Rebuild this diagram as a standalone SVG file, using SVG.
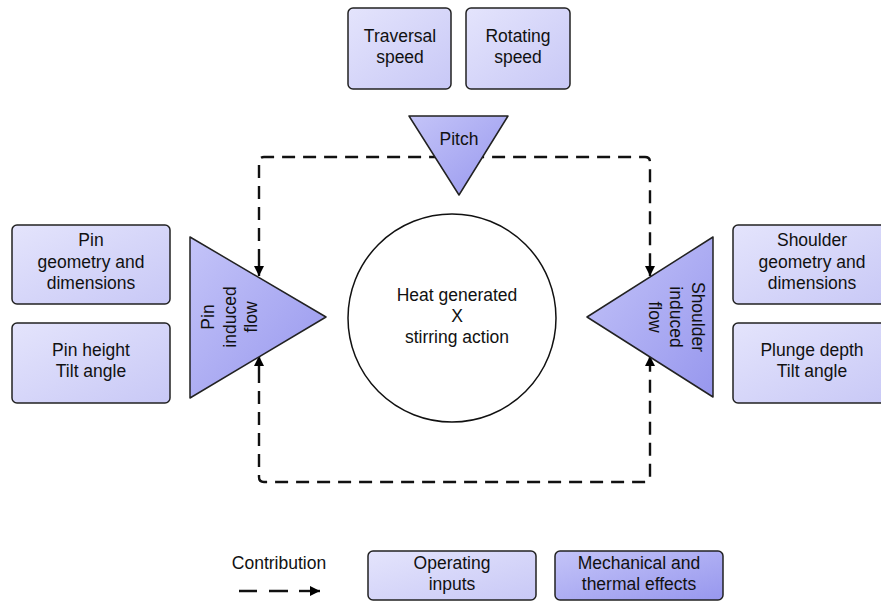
<svg xmlns="http://www.w3.org/2000/svg" width="881" height="601" viewBox="0 0 881 601">
<defs>
<linearGradient id="gIn" x1="0" y1="0" x2="1" y2="1">
<stop offset="0" stop-color="#e4e4fc"/>
<stop offset="1" stop-color="#c8c8f6"/>
</linearGradient>
<linearGradient id="gEf" x1="0" y1="0" x2="1" y2="1">
<stop offset="0" stop-color="#c4c4f8"/>
<stop offset="1" stop-color="#9797ee"/>
</linearGradient>
<marker id="arr" viewBox="0 0 10 10" refX="10" refY="5" markerWidth="10" markerHeight="10" markerUnits="userSpaceOnUse" orient="auto">
<path d="M0,0 L10,5 L0,10 z" fill="#000"/>
</marker>
</defs>
<style>
.in{fill:url(#gIn);stroke:#222;stroke-width:1.5}
.ef{fill:url(#gEf);stroke:#222;stroke-width:1.5;stroke-linejoin:round}
text{font-family:"Liberation Sans",Arial,sans-serif;font-size:17.5px;fill:#111;text-anchor:middle}
.dash{fill:none;stroke:#111;stroke-width:2.4;stroke-dasharray:13 8}
</style>
<rect width="881" height="601" fill="#fff"/>

<g id="traversal"><rect class="in" x="348" y="8" width="103" height="81" rx="5"/><text x="400" y="42">Traversal</text><text x="400" y="63">speed</text></g>
<g id="rotating"><rect class="in" x="466" y="8" width="104" height="81" rx="5"/><text x="518" y="42">Rotating</text><text x="518" y="63">speed</text></g>

<g id="connectors">
<path class="dash" d="M259,262 L259,162 Q259,157 264,157 L645,157 Q650,157 650,162 L650,262"/>
<path class="dash" d="M259,370 L259,477 Q259,482 264,482 L645,482 Q650,482 650,477 L650,370"/>
<path d="M259,262 L259,276" stroke="#111" stroke-width="2.4" marker-end="url(#arr)"/>
<path d="M650,262 L650,276" stroke="#111" stroke-width="2.4" marker-end="url(#arr)"/>
<path d="M259,370 L259,356" stroke="#111" stroke-width="2.4" marker-end="url(#arr)"/>
<path d="M650,370 L650,356" stroke="#111" stroke-width="2.4" marker-end="url(#arr)"/>
</g>

<g id="pitch"><path class="ef" d="M409,116 L508,116 L459,195 z"/><text x="459" y="145">Pitch</text></g>

<g id="pin-flow"><path class="ef" d="M190,237 L190,398 L326,317 z"/>
<text transform="translate(214,317) rotate(-90)">Pin</text>
<text transform="translate(236,317) rotate(-90)">induced</text>
<text transform="translate(257,317) rotate(-90)">flow</text></g>

<g id="shoulder-flow"><path class="ef" d="M713,237 L713,397 L587,317 z"/>
<text transform="translate(692,317) rotate(90)">Shoulder</text>
<text transform="translate(670,317) rotate(90)">induced</text>
<text transform="translate(649,317) rotate(90)">flow</text></g>

<g id="heat"><circle cx="452" cy="318" r="104" fill="#fff" stroke="#111" stroke-width="1.5"/>
<text x="457" y="301">Heat generated</text><text x="457" y="322">X</text><text x="457" y="343">stirring action</text></g>

<g id="pin-geom"><rect class="in" x="12" y="225" width="158" height="79" rx="5"/><text x="91" y="246">Pin</text><text x="91" y="268">geometry and</text><text x="91" y="289">dimensions</text></g>
<g id="pin-height"><rect class="in" x="12" y="323" width="158" height="80" rx="5"/><text x="91" y="356">Pin height</text><text x="91" y="377">Tilt angle</text></g>

<g id="shoulder-geom"><rect class="in" x="733" y="225" width="158" height="79" rx="5"/><text x="812" y="246">Shoulder</text><text x="812" y="268">geometry and</text><text x="812" y="289">dimensions</text></g>
<g id="plunge"><rect class="in" x="733" y="323" width="158" height="80" rx="5"/><text x="812" y="356">Plunge depth</text><text x="812" y="377">Tilt angle</text></g>

<g id="legend">
<text x="279" y="569">Contribution</text>
<path d="M239,591 L257,591 M269,591 L288,591" stroke="#111" stroke-width="2.4" fill="none"/>
<path d="M299,591 L320,591" stroke="#111" stroke-width="2.4" marker-end="url(#arr)"/>
<rect class="in" x="368" y="551" width="168" height="49" rx="5"/><text x="452" y="569">Operating</text><text x="452" y="590">inputs</text>
<rect class="in" x="555" y="551" width="168" height="49" rx="5" style="fill:url(#gEf)"/><text x="639" y="569">Mechanical and</text><text x="639" y="590">thermal effects</text>
</g>
</svg>
